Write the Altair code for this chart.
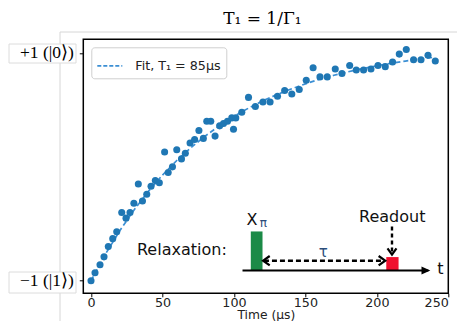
import altair as alt
import pandas as pd

# ---- data ----
t_us = [0, 2.8, 6.3, 9.1, 12.1, 15.2, 18.0, 21.5, 24.5, 27.3, 30.0, 33.1, 36.0, 39.0,
        42.0, 45.0, 47.8, 51.5, 54.0, 57.0, 60.0, 63.3, 66.0, 69.3, 72.5, 75.5, 78.6,
        81.0, 83.8, 86.8, 90.0, 92.7, 95.5, 98.5, 99.7, 101.3, 105.5, 110.2, 115.0,
        120.3, 125.3, 130.5, 135.5, 140.5, 145.7, 150.6, 155.4, 160.2, 165.3, 170.9,
        175.6, 181.0, 185.6, 190.7, 195.9, 200.8, 205.9, 211.0, 215.7, 220.6, 225.7,
        230.9, 235.8, 240.9]
signal = [-1.00, -0.93, -0.86, -0.79, -0.70, -0.63, -0.57, -0.40, -0.45, -0.40, -0.32,
          -0.15, -0.30, -0.24, -0.17, -0.12, -0.14, 0.13, -0.05, 0.00, 0.15, 0.07, 0.12,
          0.21, 0.24, 0.32, 0.25, 0.40, 0.40, 0.27, 0.36, 0.38, 0.40, 0.43, 0.33, 0.43,
          0.48, 0.61, 0.53, 0.57, 0.57, 0.62, 0.67, 0.64, 0.68, 0.76, 0.87, 0.79, 0.79,
          0.86, 0.82, 0.89, 0.85, 0.85, 0.86, 0.89, 0.88, 0.92, 0.99, 1.03, 0.94, 0.94,
          0.98, 0.93]
fit_t = [0, 10, 20, 30, 40, 50, 60, 70, 80, 90, 100, 110, 120, 130, 140, 150, 160,
         170, 180, 190, 200, 210, 220, 230, 240]
fit_y = [-1.000, -0.768, -0.563, -0.380, -0.217, -0.072, 0.056, 0.170, 0.272, 0.362,
         0.443, 0.514, 0.578, 0.634, 0.684, 0.729, 0.769, 0.804, 0.835, 0.863, 0.888,
         0.910, 0.929, 0.947, 0.962]
fit_label = "Fit, T₁ = 85μs"
chart_title = "T₁ = 1/Γ₁"
x_ticks = [0, 50, 100, 150, 200, 250]
y_ticks = [-1, 1]

pts = pd.DataFrame({"t": t_us, "s": signal})
fit = pd.DataFrame({"t": fit_t, "s": fit_y, "series": [fit_label] * len(fit_t)})

X = alt.X("t:Q", scale=alt.Scale(domain=[-5.4, 250], nice=False, zero=False),
          axis=alt.Axis(values=x_ticks, title="Time (μs)", zindex=1,
                        titleBaseline="bottom", titleY=27.7, tickSize=3.5,
                        labelPadding=-0.5))
Y = alt.Y("s:Q", scale=alt.Scale(domain=[-1.11, 1.12], nice=False, zero=False),
          axis=alt.Axis(values=y_ticks, title=None, zindex=1,
                        labelExpr="datum.value > 0 ? '+1 (|0⟩)' : '−1 (|1⟩)'",
                        labelFont="Liberation Serif", labelFontSize=17.5,
                        labelColor="black", labelPadding=6))

one = alt.Data(values=[{"a": 1}])

# decorative light frame of the screenshot and label boxes
frame_v = alt.Chart(one).mark_rule(color="#d6d6d6", strokeWidth=1).encode(
    x=alt.value(-23.3), y=alt.value(-7.3), y2=alt.value(300))
frame_h = alt.Chart(one).mark_rule(color="#d6d6d6", strokeWidth=1).encode(
    x=alt.value(-23.3), x2=alt.value(390), y=alt.value(-7.3))
box1 = alt.Chart(one).mark_rect(fill="white", stroke="#dcdcdc", strokeWidth=1).encode(
    x=alt.value(-74.3), x2=alt.value(-7.3), y=alt.value(4.7), y2=alt.value(23.7))
box2 = alt.Chart(one).mark_rect(fill="white", stroke="#dcdcdc", strokeWidth=1).encode(
    x=alt.value(-74.3), x2=alt.value(-7.3), y=alt.value(232.7), y2=alt.value(253.7))
title_txt = alt.Chart(alt.Data(values=[{"label": chart_title}])).mark_text(
    font="DejaVu Serif", fontSize=17, align="center", baseline="alphabetic",
    color="black").encode(x=alt.value(179), y=alt.value(-15.5), text="label:N")

fit_line = alt.Chart(fit).mark_line(strokeDash=[5, 3], strokeWidth=1.7).encode(
    x=X, y=Y,
    color=alt.Color("series:N", scale=alt.Scale(range=["#3b8fd4"]),
                    legend=alt.Legend(title=None, orient="top-left", offset=8,
                                      symbolType="stroke", symbolDash=[4, 2],
                                      symbolStrokeWidth=1.7, symbolSize=625,
                                      labelFont="DejaVu Sans", labelFontSize=12.7,
                                      labelColor="#222", labelOffset=12,
                                      padding=5, cornerRadius=3,
                                      strokeColor="#cfcfcf", fillColor="white")))
dots = alt.Chart(pts).mark_circle(size=50, opacity=1, color="#1f77b4").encode(x=X, y=Y)

# inset pulse-sequence diagram (data coordinates)
bars = alt.Chart(pd.DataFrame({
    "t": [111.8, 206.6], "t2": [120.0, 215.2], "s": [-0.567, -0.792], "s2": [-0.909, -0.909],
    "c": ["g", "r"]})).mark_rect().encode(
    x=X, x2=alt.X2("t2"), y=Y, y2=alt.Y2("s2"),
    color=alt.Color("c:N", scale=alt.Scale(domain=["g", "r"], range=["#1b8a47", "#f0102e"]),
                    legend=None))
baseline = alt.Chart(pd.DataFrame({"t": [106.0], "t2": [236.0], "s": [-0.909]})).mark_rule(
    color="black", strokeWidth=2).encode(x=X, x2=alt.X2("t2"), y=Y)
base_head = alt.Chart(pd.DataFrame({"t": [237.4], "s": [-0.909]})).mark_point(
    shape="M-2.2,-1L0,0L-2.2,1Z", size=64, filled=True, color="black", opacity=1).encode(x=X, y=Y)
tau_line = alt.Chart(pd.DataFrame({"t": [121.0], "t2": [205.3], "s": [-0.824]})).mark_rule(
    color="black", strokeWidth=2.4, strokeDash=[5, 3]).encode(x=X, x2=alt.X2("t2"), y=Y)
tau_heads = alt.Chart(pd.DataFrame({"t": [120.4, 205.9], "s": [-0.824, -0.824],
                                    "h": ["l", "r"]})).mark_point(
    size=90, filled=False, color="black", strokeWidth=2.2, opacity=1).encode(
    x=X, y=Y, shape=alt.Shape("h:N", scale=alt.Scale(
        domain=["l", "r"], range=["M1.4,-1L0,0L1.4,1", "M-1.4,-1L0,0L-1.4,1"]), legend=None))
ro_line = alt.Chart(pd.DataFrame({"t": [210.6], "s": [-0.524], "s2": [-0.766]})).mark_rule(
    color="black", strokeWidth=2.4, strokeDash=[4, 3]).encode(x=X, y=Y, y2=alt.Y2("s2"))
ro_head = alt.Chart(pd.DataFrame({"t": [210.6], "s": [-0.771]})).mark_point(
    shape="M-1,-1.4L0,0L1,-1.4", size=80, filled=False, color="black", strokeWidth=2.2,
    opacity=1).encode(x=X, y=Y)

labels = pd.DataFrame({
    "t": [95.0, 112.7, 210.8, 244.4],
    "s": [-0.728, -0.465, -0.436, -0.900],
    "label": ["Relaxation:", "X", "Readout", "t"],
    "al": ["right", "center", "center", "center"]})
txt_r = alt.Chart(labels[labels.al == "right"]).mark_text(
    font="DejaVu Sans", fontSize=16, align="right", baseline="middle", color="#111").encode(
    x=X, y=Y, text="label:N")
txt_c = alt.Chart(labels[labels.al == "center"]).mark_text(
    font="DejaVu Sans", fontSize=16, align="center", baseline="middle", color="#111").encode(
    x=X, y=Y, text="label:N")
greek = alt.Chart(pd.DataFrame({"t": [120.6, 162.5], "s": [-0.497, -0.745],
                                "label": ["π", "τ"], "fs": [12, 15]})).mark_text(
    font="DejaVu Sans", align="center", baseline="middle", color="#2b4d7a").encode(
    x=X, y=Y, text="label:N", size=alt.Size("fs:Q", scale=None, legend=None))

chart = alt.layer(
    frame_v, frame_h, box1, box2, title_txt,
    fit_line, dots, bars, baseline, base_head, tau_line, tau_heads, ro_line, ro_head,
    txt_r, txt_c, greek
).resolve_scale(color="independent", shape="independent").properties(
    width=365, height=254,
    autosize=alt.AutoSizeParams(type="none"),
    padding={"left": 75.3, "top": 31.3, "right": 8.7, "bottom": 27.7},
).configure_view(stroke="black", strokeWidth=1.5).configure_axis(
    grid=False, domain=False, tickColor="black", tickSize=4, tickWidth=1,
    labelFont="DejaVu Sans", labelFontSize=12.7, labelColor="#222", labelPadding=1,
    titleFont="DejaVu Sans", titleFontSize=12.3, titleFontWeight="normal",
    titleColor="#222")

chart.save("out.html", embed_options={"renderer": "svg", "actions": False})
